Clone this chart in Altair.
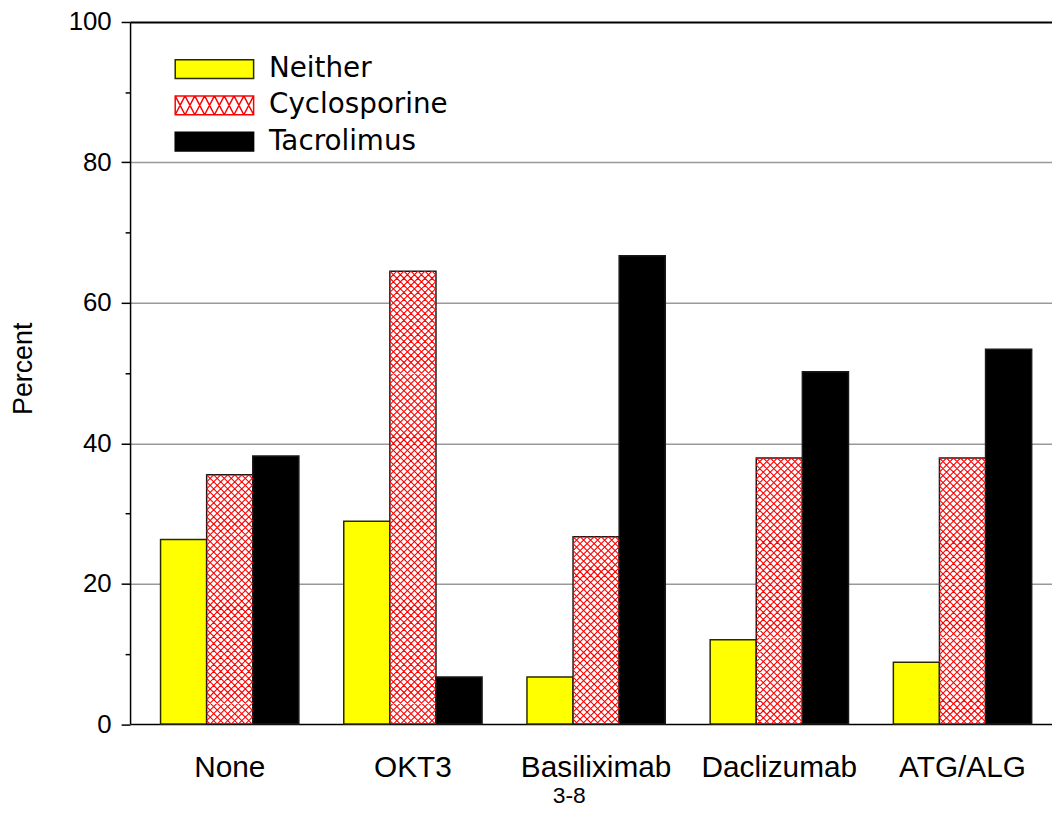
import altair as alt
import pandas as pd

# ---------------- data ----------------
GROUPS = ["None", "OKT3", "Basiliximab", "Daclizumab", "ATG/ALG"]
SERIES = ["Neither", "Cyclosporine", "Tacrolimus"]
NEITHER = [26.3, 28.9, 6.7, 12.0, 8.8]
CYCLOSPORINE = [35.5, 64.5, 26.7, 37.9, 37.9]
TACROLIMUS = [38.2, 6.7, 66.7, 50.2, 53.4]
Y_TICKS = [0, 10, 20, 30, 40, 50, 60, 70, 80, 90, 100]
FOOTNOTE = "3-8"

records = []
for i, g in enumerate(GROUPS):
    for s, vals in zip(SERIES, [NEITHER, CYCLOSPORINE, TACROLIMUS]):
        records.append({"group": g, "series": s, "value": vals[i]})
df = pd.DataFrame(records)

# ---------------- layout / style ----------------
W = 929
H = 707.5
PAD_IN = 0.245
PAD_OUT = 0.1387
ALIGN = 0.6
step = W / (len(GROUPS) - PAD_IN + 2 * PAD_OUT)
bar_w = step * (1 - PAD_IN) / len(SERIES)
unit_px = H / 100.0

# one horizontal row of cross-hatch tiles spanning a bar (symbol path, unit space)
s_px = bar_w / 2.0
h = unit_px / s_px
half = h / 2.0
parts = []
x0 = -1.0
while x0 < 1.0 - 1e-9:
    x1 = min(x0 + h, 1.0)
    dx = x1 - x0
    parts.append(f"M{x0:.4f},{-half:.4f}L{x1:.4f},{-half + dx:.4f}")
    parts.append(f"M{x0:.4f},{half:.4f}L{x1:.4f},{half - dx:.4f}")
    x0 += h
ROW_PATH = "".join(parts)

# legend symbols
LEG_SIZE = 361
a = 79 / 19.0
RECT = f"M{-a:.4f},-1H{a:.4f}V1H{-a:.4f}Z"
hp = [RECT]
n_t = 8
tw = 2 * a / n_t
for k in range(n_t):
    xa = -a + k * tw
    hp.append(f"M{xa:.4f},-1L{xa + tw:.4f},1M{xa:.4f},1L{xa + tw:.4f},-1")
HATCH = "".join(hp)

x_scale = alt.Scale(domain=GROUPS, paddingInner=PAD_IN, paddingOuter=PAD_OUT, align=ALIGN)
xo_scale = alt.Scale(domain=SERIES, paddingInner=0, paddingOuter=0)
y_scale = alt.Scale(domain=[0, 100], nice=False, zero=True)
fill_scale = alt.Scale(domain=SERIES, range=["#FFFF00", "#FFFFFF", "#000000"])
stroke_scale = alt.Scale(domain=SERIES, range=["#2b2b00", "#FF0000", "#000000"])
shape_scale = alt.Scale(domain=SERIES, range=[RECT, HATCH, RECT])

y_axis = alt.Axis(
    values=Y_TICKS,
    labelExpr="datum.value % 20 == 0 ? datum.label : ''",
    title="Percent",
    titleFont="Liberation Sans",
    titleFontSize=27,
    titleFontWeight="normal",
    titleColor="black",
    titlePadding=31,
    titleY=349,
    labelFont="Liberation Sans",
    labelFontSize=26,
    labelColor="black",
    labelPadding=10,
    labelFlush=False,
    labelOverlap=False,
    tickColor="black",
    tickWidth=1.5,
    tickSize={"condition": {"test": "datum.value % 20 != 0", "value": 5}, "value": 9},
    domainColor="black",
    domainWidth=1.5,
    grid=True,
    gridColor={"condition": {"test": "datum.value == 100", "value": "black"}, "value": "#999999"},
    gridWidth={"condition": {"test": "datum.value == 100", "value": 2}, "value": 1.5},
    gridOpacity={"condition": {"test": "datum.value % 20 != 0 || datum.value == 0", "value": 0}, "value": 1},
)

x_axis = alt.Axis(
    title=None,
    labelFont="Liberation Sans",
    labelFontSize=30,
    labelColor="black",
    labelAngle=0,
    labelPadding=29,
    ticks=False,
    tickSize=0,
    domainColor="black",
    domainWidth=1.5,
    grid=False,
)

leg = alt.Legend(
    title=None,
    orient="none",
    legendX=45,
    legendY=33.5,
    padding=0,
    labelFont="DejaVu Sans",
    labelFontSize=28,
    labelColor="black",
    labelLimit=500,
    symbolSize=LEG_SIZE,
    symbolOffset=26,
    labelOffset=41,
    rowPadding=8.5,
    symbolStrokeWidth=1.5,
)

bars = alt.Chart(df).mark_bar(strokeWidth=1.5).encode(
    x=alt.X("group:N", scale=x_scale, axis=x_axis),
    xOffset=alt.XOffset("series:N", scale=xo_scale),
    y=alt.Y("value:Q", scale=y_scale, axis=y_axis),
    fill=alt.Fill("series:N", scale=fill_scale, legend=leg),
    stroke=alt.condition("datum.series == 'Neither'", alt.value("#2b2b00"), alt.value("#1a1a1a")),
)

hatch = (
    alt.Chart(df)
    .transform_filter("datum.series == 'Cyclosporine'")
    .transform_calculate(rows="sequence(0, ceil(datum.value))")
    .transform_flatten(["rows"])
    .transform_calculate(ry="datum.value - datum.rows - 0.5")
    .mark_point(shape=ROW_PATH, size=bar_w ** 2, filled=False, stroke="#FF0000",
                strokeWidth=1.1, opacity=1, clip=True)
    .encode(
        x=alt.X("group:N", scale=x_scale, axis=x_axis),
        xOffset=alt.XOffset("series:N", scale=xo_scale),
        y=alt.Y("ry:Q", scale=y_scale, axis=y_axis),
    )
)

legend_layer = (
    alt.Chart(df)
    .transform_filter("false")
    .mark_point(filled=True, opacity=1)
    .encode(
        fill=alt.Fill("series:N", scale=fill_scale, legend=leg),
        stroke=alt.Stroke("series:N", scale=stroke_scale, legend=leg),
        shape=alt.Shape("series:N", scale=shape_scale, legend=leg),
    )
)

chart = (
    alt.layer(bars, hatch, legend_layer)
    .properties(
        width=W,
        height=H,
        title=alt.TitleParams(text=FOOTNOTE, orient="bottom", anchor="start", frame="group",
                              dx=426, offset=2, font="Liberation Sans", fontSize=23,
                              fontWeight="normal", color="black"),
        autosize=alt.AutoSizeParams(type="none"),
        padding={"left": 123, "top": 11, "right": 0, "bottom": 87.5},
    )
    .configure(background="white", font="Liberation Sans")
    .configure_view(stroke=None)
)

chart.save("out.html", embed_options={"renderer": "svg", "actions": False})
